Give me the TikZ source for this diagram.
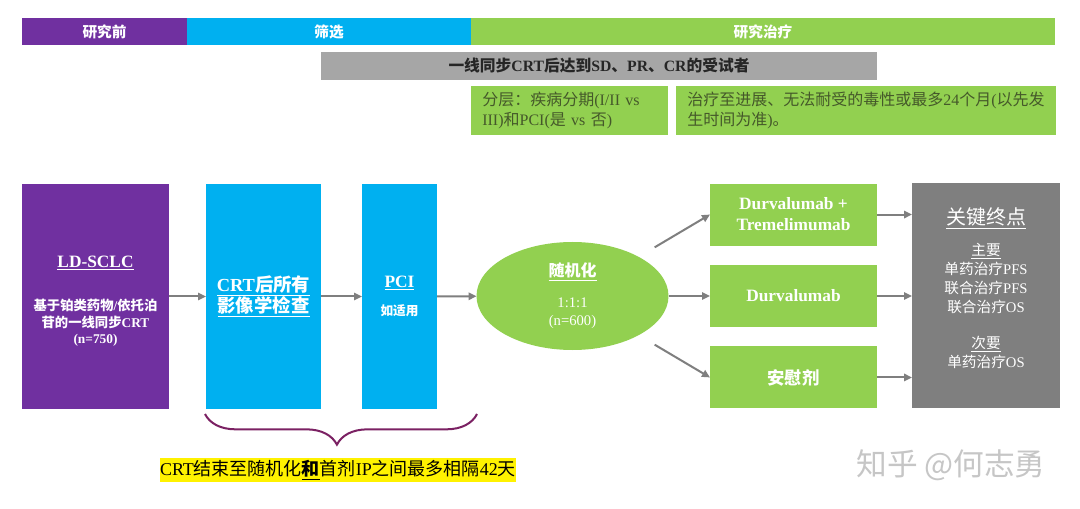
\documentclass[tikz,border=0pt]{standalone}
\usepackage{fontspec}
\setmainfont{Liberation Serif}
\newfontfamily\cjk{Noto Sans CJK SC}
\XeTeXinterchartokenstate=1
\newXeTeXintercharclass\zhcls
\newcount\zhc
\zhc="21 \loop\XeTeXcharclass\zhc=0 \advance\zhc1 \ifnum\zhc<"7F\repeat
\zhc="2E80 \loop\XeTeXcharclass\zhc=\zhcls\advance\zhc1 \ifnum\zhc<"A000\repeat
\zhc="FF00 \loop\XeTeXcharclass\zhc=\zhcls\advance\zhc1 \ifnum\zhc<"FFF0\repeat
\XeTeXinterchartoks 0 \zhcls={\cjk}
\XeTeXinterchartoks 4095 \zhcls={\cjk}
\XeTeXinterchartoks \zhcls 0={\rmfamily}
\XeTeXinterchartoks \zhcls 4095={\rmfamily}
\usepackage{tikz}
\usetikzlibrary{positioning,arrows.meta,shapes.geometric,decorations.pathreplacing}
\definecolor{trialpurple}{HTML}{7030A0}
\definecolor{trialcyan}{HTML}{00B0F0}
\definecolor{trialgreen}{HTML}{92D050}
\definecolor{bargray}{HTML}{A6A6A6}
\definecolor{endgray}{HTML}{7F7F7F}
\definecolor{bracecol}{HTML}{7B2163}
\definecolor{notegreen}{HTML}{45592A}

\begin{document}
\begin{tikzpicture}[x=0.75pt, y=-0.75pt,
  every node/.style={inner sep=0pt, outer sep=0pt, align=center},
  phase/.style={fill=#1, minimum height=20.25pt, text=white, font=\fontsize{11}{13}\selectfont\bfseries},
  infobox/.style={fill=trialgreen, minimum height=36.75pt, text width=#1, inner xsep=8.5pt, align=left, text=notegreen, font=\fontsize{12}{15}\selectfont},
  stage/.style={fill=#1, minimum height=168pt, text=white, font=\fontsize{10}{12.4}\selectfont\bfseries},
  arm/.style={fill=trialgreen, minimum width=125.25pt, minimum height=46.5pt, text=white, font=\fontsize{13}{15.75}\selectfont\bfseries},
  flow/.style={draw=endgray, line width=1.5pt, -{Triangle[length=6pt,width=5.5pt]}}]
\fill[white] (0,0) rectangle (1080,509);
\useasboundingbox (0,0) rectangle (1080,509);

\node (hpre) [phase=trialpurple, minimum width=123.75pt] at (104.5,31.5) {研究前};
\node (hscr) [phase=trialcyan, minimum width=213pt, right=0pt of hpre] {筛选};
\node (htrt) [phase=trialgreen, minimum width=438pt, right=0pt of hscr] {研究治疗};
\node (crbar) [fill=bargray, minimum width=417pt, minimum height=21pt, text=black!85, font=\fontsize{11.8}{13}\selectfont\bfseries] at (599,66) {一线同步CRT后达到SD、PR、CR的受试者};
\node (strat) [infobox=130.75pt] at (569.5,110.5) {分层：疾病分期(I/II vs\\III)和PCI(是 vs 否)};
\node (durat) [infobox=268pt, right=6pt of strat] {治疗至进展、无法耐受的毒性或最多24个月(以先发\\生时间为准)。};

\node (ld) [stage=trialpurple, minimum width=110.25pt] at (95.5,296.5) {};
\node (ldtxt) [text=white, font=\fontsize{10}{12.4}\selectfont\bfseries] at (95.5,301.5) {{\fontsize{13}{15}\selectfont\underline{LD-SCLC}}\\[20pt]基于铂类药物/依托泊\\苷的一线同步CRT\\(n=750)};
\node (crt) [stage=trialcyan, minimum width=86.25pt, right=27.75pt of ld, font=\fontsize{13.8}{15.75}\selectfont\bfseries] {\underline{CRT后所有}\\\underline{影像学检查}};
\node (pci) [stage=trialcyan, minimum width=56.25pt, right=30.75pt of crt, font=\fontsize{9.5}{12}\selectfont\bfseries] {{\fontsize{13}{15}\selectfont\underline{PCI}}\\[9pt]如适用};
\node (rand) [ellipse, fill=trialgreen, minimum width=144pt, minimum height=81pt, text=white, font=\fontsize{11}{13.5}\selectfont] at (572.5,296) {{\fontsize{12}{14}\selectfont\bfseries\underline{随机化}}\\[10pt]1:1:1\\(n=600)};

\node (armB) [arm] at (793.5,296) {Durvalumab};
\node (armA) [arm, above=14.6pt of armB] {Durvalumab +\\Tremelimumab};
\node (armC) [arm, below=14.6pt of armB] {安慰剂};
\node (endp) [fill=endgray, minimum width=111pt, minimum height=168.75pt] at (986,295.5) {};
\node (endtxt) [text=white, font=\fontsize{11}{14.25}\selectfont] at (986,288) {{\fontsize{15}{17}\selectfont\underline{关键终点}}\\[9pt]\underline{主要}\\单药治疗PFS\\联合治疗PFS\\联合治疗OS\\[12.75pt]\underline{次要}\\单药治疗OS};

\draw[flow] (ld) -- (crt);
\draw[flow] (crt) -- (pci);
\draw[flow] (pci) -- (rand);
\draw[flow, shorten <=14pt] (rand) -- (armA.west);
\draw[flow] (rand) -- (armB);
\draw[flow, shorten <=14pt] (rand) -- (armC.west);
\draw[flow] (armA) -- (armA -| endp.west);
\draw[flow] (armB) -- (armB -| endp.west);
\draw[flow] (armC) -- (armC -| endp.west);

\coordinate (bl) at (205,414);
\coordinate (br) at (477,414);
\draw[bracecol, line width=1.5pt, decorate, decoration={brace, mirror, amplitude=23pt, aspect=0.485}] (bl) -- (br);
\node (gapnote) [fill=yellow, anchor=west, inner ysep=1.5pt, font=\fontsize{13.5}{15}\selectfont] at (160,470) {CRT结束至随机化\underline{\textbf{和}}首剂IP之间最多相隔42天};
\node (mark) [text=gray!45, font=\fontsize{23}{26}\selectfont] at (951,465) {\XeTeXinterchartokenstate=0 \cjk 知乎 @何志勇};
\end{tikzpicture}
\end{document}
